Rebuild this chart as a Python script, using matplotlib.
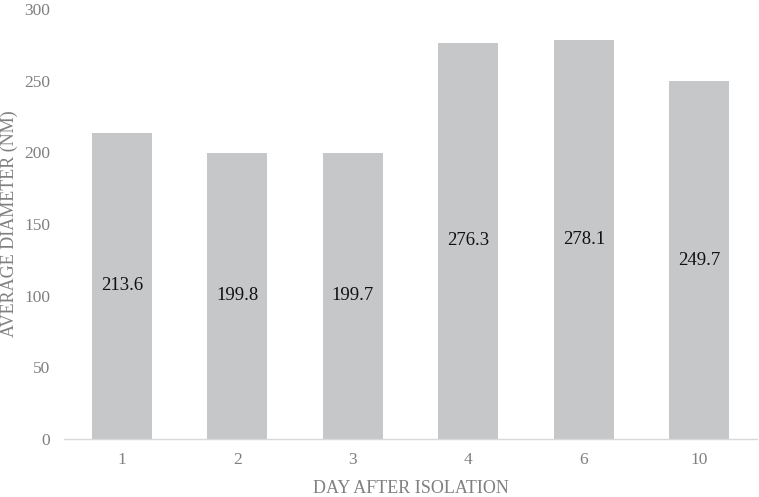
import matplotlib
matplotlib.use("Agg")
import matplotlib.pyplot as plt

days = ["1", "2", "3", "4", "6", "10"]
diameters = [213.6, 199.8, 199.7, 276.3, 278.1, 249.7]
yticks = [0, 50, 100, 150, 200, 250, 300]

plt.rcParams['font.family'] = ['Liberation Serif', 'DejaVu Serif']
gray_txt = '#808080'

fig = plt.figure(figsize=(7.59, 4.97), dpi=100)
ax = fig.add_axes([64/759, 1 - 439/497, 693/759, 430/497])
x = list(range(len(days)))
ax.bar(x, diameters, width=0.52, color='#c6c7c9', zorder=2)
for xi, v in zip(x, diameters):
    ax.text(xi, v / 2, f"{v:.1f}", ha='center', va='center', fontsize=13.5, color='#111111', zorder=3)

ax.set_xlim(-0.5, len(days) - 0.5)
ax.set_ylim(0, 300)
ax.set_yticks(yticks)
ax.set_xticks(x)
ax.set_xticklabels(days)
for s in ['top', 'right', 'left']:
    ax.spines[s].set_visible(False)
ax.spines['bottom'].set_color('#d9d9d9')
ax.spines['bottom'].set_linewidth(1.0)
ax.tick_params(axis='both', length=0, labelsize=12.5, labelcolor=gray_txt)
ax.tick_params(axis='y', pad=10)
ax.tick_params(axis='x', pad=9)
ax.set_xlabel("DAY AFTER ISOLATION", fontsize=13, color=gray_txt, labelpad=9)
ax.set_ylabel("AVERAGE DIAMETER (NM)", fontsize=13, color=gray_txt)
ax.yaxis.set_label_coords(-46/693, 0.5)

fig.savefig("out.png", dpi=100)
